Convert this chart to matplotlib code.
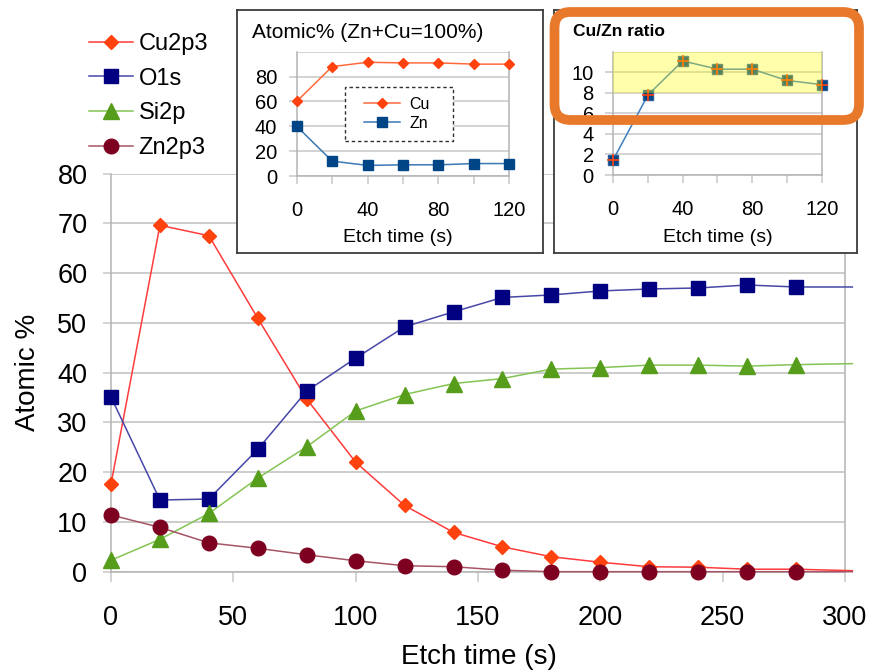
import matplotlib
matplotlib.use("Agg")
import matplotlib.pyplot as plt
from matplotlib.patches import FancyBboxPatch, Rectangle
from matplotlib.lines import Line2D

plt.rcParams['font.family'] = ['Liberation Sans', 'DejaVu Sans']

# ---------------- data ----------------
etch_time = [0, 20, 40, 60, 80, 100, 120, 140, 160, 180, 200, 220, 240, 260, 280]
cu2p3 = [17.6, 69.6, 67.5, 50.9, 34.7, 22.0, 13.3, 7.9, 5.0, 3.0, 1.9, 1.0, 0.9, 0.5, 0.5]
o1s = [35.1, 14.4, 14.6, 24.6, 36.3, 42.9, 49.2, 52.2, 55.1, 55.6, 56.4, 56.8, 57.0, 57.6, 57.2]
si2p = [2.3, 6.5, 11.7, 18.8, 25.1, 32.3, 35.6, 37.8, 38.8, 40.7, 41.0, 41.5, 41.5, 41.3, 41.6]
zn2p3 = [11.4, 8.9, 5.8, 4.7, 3.4, 2.2, 1.2, 1.0, 0.3, 0.0, 0.0, 0.0, 0.0, 0.0, 0.0]
# line tails drawn past the last marker
tail_time = 303
tail_vals = {'Cu2p3': 0.2, 'O1s': 57.2, 'Si2p': 41.8, 'Zn2p3': 0.0}

inset_time = [0, 20, 40, 60, 80, 100, 120]
cu_pct = [60, 88, 91.5, 91, 91, 90, 90]
zn_pct = [40, 12, 8.5, 9, 9, 10, 10]
cu_zn_ratio = [1.5, 7.8, 11.1, 10.3, 10.3, 9.2, 8.8]

main_yticks = [0, 10, 20, 30, 40, 50, 60, 70, 80]
main_xticks = [0, 50, 100, 150, 200, 250, 300]
inset1_yticks = [0, 20, 40, 60, 80]
inset2_yticks = [0, 2, 4, 6, 8, 10]
inset_xticks = [0, 40, 80, 120]

W, H = 870, 672
fig = plt.figure(figsize=(W / 100, H / 100), dpi=100)
fig.patch.set_facecolor('white')

def frac(x0, y0, x1, y1):
    """pixel box (top-left origin) -> figure fraction rect"""
    return [x0 / W, 1 - y1 / H, (x1 - x0) / W, (y1 - y0) / H]

GRID = '#c8c8c8'
SPINE = '#b3b3b3'

# ---------------- main axes ----------------
ax = fig.add_axes(frac(111, 173.5, 845, 571.7))
series = [
    ('Cu2p3', cu2p3, 'D', 7.4, '#ff420e', '#ff3b3b'),
    ('O1s', o1s, 's', 10, '#000080', '#4747a8'),
    ('Si2p', si2p, '^', 11, '#579d1c', '#84c454'),
    ('Zn2p3', zn2p3, 'o', 10.5, '#7e0021', '#a65566'),
]
handles = []
for name, vals, mk, ms, mc, lc in series:
    ax.plot(etch_time + [tail_time], vals + [tail_vals[name]], color=lc, lw=1.1,
            clip_on=False, zorder=3)
    ax.plot(etch_time, vals, linestyle='none', marker=mk, ms=ms, color=mc,
            mec=mc, clip_on=False, zorder=4)
    handles.append(Line2D([], [], color=lc, lw=1.1, marker=mk, ms=ms, mfc=mc, mec=mc,
                          label=name))
ax.set_xlim(0, 300)
ax.set_ylim(0, 80)
ax.set_yticks(main_yticks)
ax.set_xticks(main_xticks)
ax.yaxis.grid(True, color=GRID, lw=1.3)
ax.set_axisbelow(True)
ax.spines['top'].set_visible(False)
for s in ['left', 'right', 'bottom']:
    ax.spines[s].set_color(SPINE)
    ax.spines[s].set_linewidth(1.1)
ax.tick_params(axis='y', length=6, width=1.1, color=GRID, labelsize=19.5, pad=11)
ax.tick_params(axis='x', length=7, width=1.1, color=GRID, labelsize=19.5, pad=17)
fig.text(28 / W, 1 - 372 / H, 'Atomic %', rotation=90, ha='center', va='center', fontsize=20)
fig.text(479 / W, 1 - 657 / H, 'Etch time (s)', ha='center', va='center', fontsize=20)

leg = fig.legend(handles=handles, loc='upper left', bbox_to_anchor=(89 / W, 1 - 33 / H),
                 frameon=False, fontsize=17, handlelength=1.85, handletextpad=0.25,
                 labelspacing=0.54, borderpad=0, borderaxespad=0)

# ---------------- inset frames ----------------
for box in [(236.7, 10, 543.3, 252.5), (554, 10, 857, 253)]:
    fa = fig.add_axes(frac(*box))
    fa.set_xticks([]); fa.set_yticks([])
    fa.set_facecolor('white')
    for s in fa.spines.values():
        s.set_color('#3c3c3c'); s.set_linewidth(1.3)
    fa.set_zorder(5)

def style_inset(a, yticks, ymax):
    a.set_facecolor('none')
    a.set_zorder(6)
    a.set_xlim(0, 120)
    a.set_ylim(0, ymax)
    a.set_yticks(yticks)
    a.set_xticks(inset_time)
    a.set_xticklabels([str(t) if t in inset_xticks else '' for t in inset_time])
    for yv in list(yticks) + [ymax]:
        a.axhline(yv, color=GRID, lw=1.1, zorder=0)
    a.spines['top'].set_visible(False)
    for s in ['left', 'right', 'bottom']:
        a.spines[s].set_color(SPINE)
        a.spines[s].set_linewidth(1.1)
    a.tick_params(axis='both', length=6, width=1.1, color=GRID, labelsize=14.5)
    a.tick_params(axis='x', pad=12)
    a.tick_params(axis='y', pad=8)

# inset 1
a1 = fig.add_axes(frac(296.7, 51.7, 509.3, 176))
a1.plot(inset_time, cu_pct, color='#ff6a3c', lw=1.1, marker='D', ms=5.2, mfc='#ff420e',
        mec='#ff420e', clip_on=False, label='Cu', zorder=3)
a1.plot(inset_time, zn_pct, color='#3b78b5', lw=1.1, marker='s', ms=7.2, mfc='#004586',
        mec='#004586', clip_on=False, label='Zn', zorder=3)
style_inset(a1, inset1_yticks, 100)
a1.add_patch(Rectangle((0.227, 0.284), 0.734 - 0.227, 0.718 - 0.284,
                       transform=a1.transAxes, facecolor='white', edgecolor='#303030',
                       lw=1.0, linestyle=(0, (2.5, 2)), zorder=7))
lg1 = a1.legend(loc='center', bbox_to_anchor=(0.472, 0.5), fontsize=11.5, frameon=False,
                handlelength=2.2, handletextpad=0.6, labelspacing=0.25, borderpad=0)
lg1.set_zorder(8)
fig.text(251.7 / W, 1 - 33 / H, 'Atomic% (Zn+Cu=100%)', ha='left', va='center',
         fontsize=15, zorder=7)
fig.text(397.7 / W, 1 - 237 / H, 'Etch time (s)', ha='center', va='center',
         fontsize=14, zorder=7)

# inset 2
a2 = fig.add_axes(frac(613.3, 51.7, 821.7, 175))
a2.plot(inset_time, cu_zn_ratio, color='#3e7fc0', lw=1.1, marker='s', ms=7.2,
        mfc='#004586', mec='#2a5f9a', clip_on=False, zorder=3)
a2.plot(inset_time, cu_zn_ratio, linestyle='none', marker='+', ms=8, mew=1.2,
        color='#ff420e', clip_on=False, zorder=4)
a2.add_patch(Rectangle((0, 8), 120, 4, facecolor='#ffff00', alpha=0.33,
                       edgecolor='none', zorder=5))
style_inset(a2, inset2_yticks, 12)
fig.text(573.3 / W, 1 - 32 / H, 'Cu/Zn ratio', ha='left', va='center',
         fontsize=12.5, fontweight='bold', zorder=7)
fig.text(717.5 / W, 1 - 237 / H, 'Etch time (s)', ha='center', va='center',
         fontsize=14, zorder=7)

# orange highlight box
hl = FancyBboxPatch((554.5 / 100, (H - 120) / 100), (859 - 554.5) / 100, (120 - 12) / 100,
                    boxstyle='round,pad=0,rounding_size=0.16',
                    transform=fig.dpi_scale_trans, facecolor='none',
                    edgecolor='#e8782a', linewidth=7, zorder=10)
fig.add_artist(hl)

fig.savefig('out.png', dpi=100)
